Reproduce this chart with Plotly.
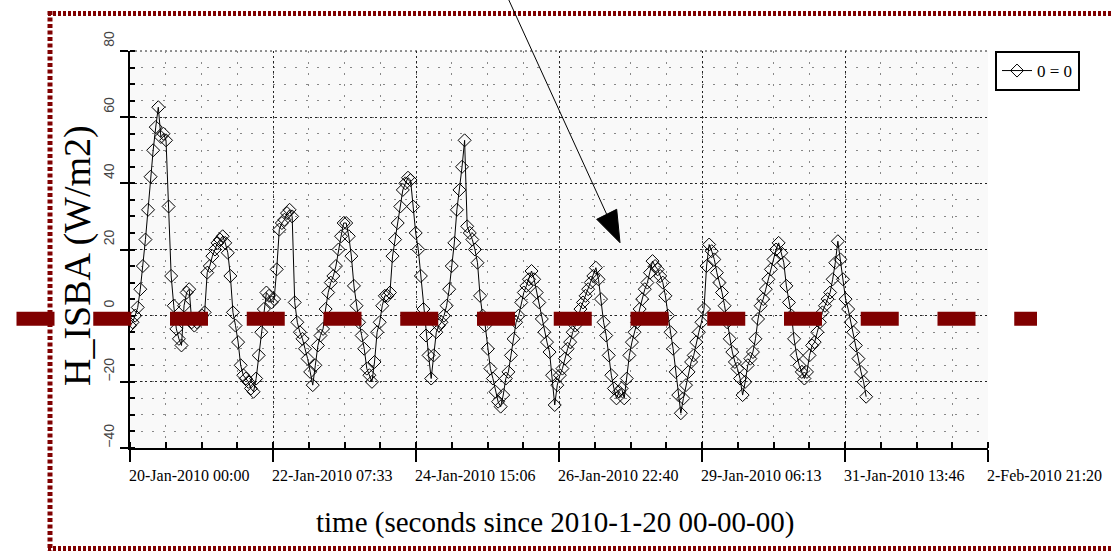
import plotly.graph_objects as go

# ---------------- data ----------------
# hourly H_ISBA values (W/m2), starting 2010-01-20 00:00
h_isba = [
    -3, -2, 0, 2.5, 8, 15, 23, 32, 42, 50, 57, 63, 54, 55, 53, 33, 12, 3, -4, -7, -9, 3, 7, 8,
    -2, -3, -2, -1, 0, 1, 13, 15, 18, 20, 22, 23, 24, 22, 19, 12, 1, -3, -8, -15, -18, -19, -20, -22,
    -23, -19, -12, -5, 2, 7, 6, 4, 5, 14, 26, 28, 29, 31, 32, 30, 4, -2, -5, -7, -10, -13, -17, -21,
    -15, -9, -6, -4, 2, 7, 10, 12, 15, 20, 24, 28, 28, 24, 18, 9, 3, -2, -6, -10, -16, -18, -20, -14,
    -5, -2, 3, 6, 6, 7, 18, 23, 28, 33, 38, 40, 41.7, 41, 33, 25, 20, 12, 2, -6, -12, -19, -12, -5,
    -3, -2, 0, 3, 8, 15, 22, 32, 38, 45, 53, 27, 25, 23, 20, 16, 6, 0, -3, -10, -16, -19, -23, -26,
    -27.5, -24, -19, -17, -12, -7, -2, 0, 4, 7, 9, 11, 13.5, 11, 7, 4, -1, -5, -8, -11, -18, -27, -21, -18,
    -16, -13, -10, -8, -5, -3, -1, 2, 4, 6, 8, 10, 12, 14.5, 11, 5, -2, -6, -12, -18, -22, -25, -23, -22,
    -25, -19, -12, -8, -5, -2, 2, 5, 8, 10, 13, 16.5, 15, 14, 12, 10, 6, 0, -5, -10, -17, -24, -29.5, -25,
    -21, -17, -14, -12, -8, -5, -2, 2, 15, 21.5, 19.5, 17, 13, 10, 7, 3, -2, -7, -11, -14, -16, -19, -24, -20,
    -15, -13, -11, -7, -1, 3, 5, 8, 11, 14, 17, 20, 22, 19, 16, 9, 4, 0, -7, -12, -15, -17, -19, -17,
    -12, -9, -8, -5, -2, 1, 3, 5, 7, 11, 16, 22.5, 17, 11, 5, 2, -2, -5, -9, -13, -17, -20, -24.5,
]
time_s = [h * 3600 for h in range(len(h_isba))]  # hourly sampling, seconds since 2010-1-20

x_tick_vals = [0, 200000, 400000, 600000, 800000, 1000000, 1200000]
x_tick_text = ["20-Jan-2010 00:00", "22-Jan-2010 07:33", "24-Jan-2010 15:06",
               "26-Jan-2010 22:40", "29-Jan-2010 06:13", "31-Jan-2010 13:46",
               "2-Feb-2010 21:20"]
y_tick_vals = [-40, -20, 0, 20, 40, 60, 80]
series_name = "0 = 0"
y_title = "H_ISBA (W/m2)"
x_title = "time (seconds since 2010-1-20 00-00-00)"

# ---------------- layout geometry ----------------
W, H = 1111, 552
L, R, T, B = 130, 988, 51, 448          # plot area in pixels
pw, ph = R - L, B - T


def px(xp):
    return (xp - L) / pw


def py(yp):
    return (B - yp) / ph


SERIF = "Liberation Serif, Times New Roman, serif"
DARKRED = "#800000"

fig = go.Figure()
fig.add_trace(go.Scatter(
    x=time_s, y=h_isba, mode="lines+markers", name=series_name,
    line=dict(color="black", width=1),
    marker=dict(symbol="diamond-open", size=10, color="black",
                line=dict(color="black", width=1)),
))

shapes = []
# dotted top border of the plot area (grid line at the top edge)
shapes.append(dict(type="line", xref="paper", yref="paper", x0=0, x1=1, y0=1, y1=1,
                   line=dict(color="#222", width=1, dash="2px,3px"), layer="below"))
# dark red dashed line near zero
shapes.append(dict(type="line", xref="paper", yref="paper",
                   x0=px(16.5), x1=px(1037), y0=py(318.8), y1=py(318.8),
                   line=dict(color=DARKRED, width=14, dash="38px,38.75px"), layer="above"))
# dotted dark red frame (top, left, bottom)
frame = dict(color=DARKRED, width=5, dash="3px,2px")
shapes.append(dict(type="line", xref="paper", yref="paper",
                   x0=px(48), x1=px(1115), y0=py(13.5), y1=py(13.5), line=frame))
shapes.append(dict(type="line", xref="paper", yref="paper",
                   x0=px(50), x1=px(50), y0=py(11), y1=py(551),
                   line=dict(color=DARKRED, width=5, dash="4px,2.5px")))
shapes.append(dict(type="line", xref="paper", yref="paper",
                   x0=px(48), x1=px(1115), y0=py(548.5), y1=py(548.5), line=frame))
# arrow: shaft and head
shapes.append(dict(type="line", xref="paper", yref="paper",
                   x0=px(507), y0=py(-4), x1=px(606.7), y1=py(214.3),
                   line=dict(color="black", width=1)))
tri = [(620, 242.7), (596.7, 219.3), (616.7, 209.3)]
path = "M " + " L ".join(f"{px(a):.5f},{py(b):.5f}" for a, b in tri) + " Z"
shapes.append(dict(type="path", xref="paper", yref="paper", path=path,
                   fillcolor="black", line=dict(color="black", width=1)))

annotations = []
for v, t in zip(x_tick_vals, x_tick_text):
    annotations.append(dict(x=v, y=0, xref="x", yref="paper", text=t, showarrow=False,
                            xanchor="left", yanchor="middle", xshift=-3, yshift=-27,
                            font=dict(family=SERIF, size=16, color="black")))
annotations.append(dict(x=0.5, y=0, xref="paper", yref="paper", text=x_title, showarrow=False,
                        xanchor="center", yanchor="middle", xshift=-4, yshift=-74,
                        font=dict(family=SERIF, size=29, color="black")))
annotations.append(dict(x=0, y=py(256), xref="paper", yref="paper", text=y_title, showarrow=False,
                        xanchor="center", yanchor="middle", xshift=-52, textangle=-90,
                        font=dict(family=SERIF, size=38, color="black")))

fig.update_layout(
    width=W, height=H,
    margin=dict(l=L, r=W - R, t=T, b=H - B, pad=0),
    paper_bgcolor="white", plot_bgcolor="#f9f9f9",
    showlegend=True,
    legend=dict(x=px(995), y=1.0, xanchor="left", yanchor="top",
                bgcolor="white", bordercolor="black", borderwidth=2,
                font=dict(family=SERIF, size=17, color="black"),
                itemwidth=30),
    shapes=shapes, annotations=annotations,
)
fig.update_xaxes(
    range=[0, 1200000], tickvals=x_tick_vals, showticklabels=False,
    showline=True, linecolor="black", linewidth=2,
    ticks="outside", ticklen=12, tickwidth=1.5, tickcolor="black",
    showgrid=True, gridcolor="#222", gridwidth=1, griddash="2px,3px",
    minor=dict(dtick=50000, ticks="inside", ticklen=6, tickcolor="black",
               showgrid=True, gridcolor="#888", griddash="2px,9px"),
    zeroline=False,
)
fig.update_yaxes(
    range=[-40, 80], tickvals=y_tick_vals,
    showline=True, linecolor="black", linewidth=2,
    ticks="outside", ticklen=8, tickwidth=1.5, tickcolor="black",
    tickangle=-90, ticklabelshift=-10,
    tickfont=dict(family="Liberation Sans, Arial, sans-serif", size=14, color="#444"),
    showgrid=True, gridcolor="#222", gridwidth=1, griddash="2px,3px",
    minor=dict(dtick=5, ticks="inside", ticklen=5, tickcolor="black",
               showgrid=True, gridcolor="#888", griddash="2px,9px"),
    zeroline=False,
)

fig.write_html("out.html")
